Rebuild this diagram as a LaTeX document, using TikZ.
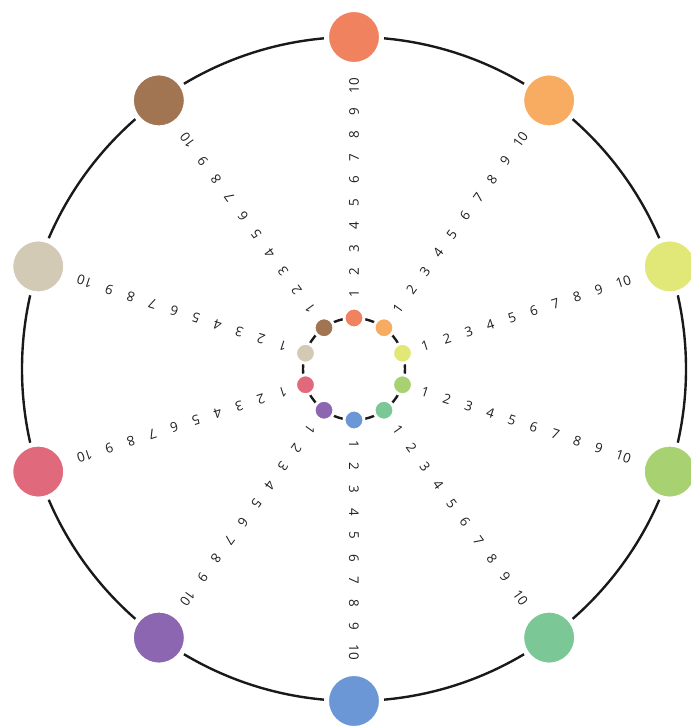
\documentclass[tikz,border=0pt]{standalone}
\usepackage{fontspec}
\setmainfont{Open Sans}
\definecolor{dot_coral}{HTML}{F0825F}
\definecolor{dot_orange}{HTML}{F8AC62}
\definecolor{dot_yellow}{HTML}{E2E878}
\definecolor{dot_lime}{HTML}{A8D272}
\definecolor{dot_green}{HTML}{7BC896}
\definecolor{dot_blue}{HTML}{6B97D6}
\definecolor{dot_purple}{HTML}{8D66B2}
\definecolor{dot_pink}{HTML}{E06A7C}
\definecolor{dot_beige}{HTML}{D3CAB5}
\definecolor{dot_brown}{HTML}{A17452}
\begin{document}
\begin{tikzpicture}[x=0.025cm, y=0.025cm, line cap=round, line join=round]
	\tikzset{
		ring_line/.style={line width=1.7pt, black!90},
		dot_base/.style={circle, draw=white, inner sep=0pt}, % white rim leaves a gap in the ring
		outer_dot/.style={dot_base, minimum size=1.375cm, line width=0.125cm},
		inner_dot/.style={dot_base, minimum size=0.5cm, line width=0.075cm},
		tick_num/.style={font=\fontsize{9.5}{11}\selectfont, text=black!88, inner sep=0pt}
	}
	\useasboundingbox (-354,-358) rectangle (336,369);
	\coordinate (c) at (0,0);
	\draw[ring_line] (c) circle (332);
	\draw[ring_line] (c) circle (51);
	\foreach \angle/\col [count=\k] in {90/dot_coral, 54/dot_orange, 18/dot_yellow, -18/dot_lime, -54/dot_green, -90/dot_blue, -126/dot_purple, -162/dot_pink, 162/dot_beige, 126/dot_brown} {
		\node[outer_dot, fill=\col] (outer\k) at (\angle:332) {};
		\node[inner_dot, fill=\col] (inner\k) at (\angle:51) {};
		\foreach \n in {1,...,10}
			\node[tick_num, rotate=\angle] (num\k-\n) at (\angle:{75+22.8*(\n-1)+3*(\n==10)}) {\n};
	}
\end{tikzpicture}
\end{document}
